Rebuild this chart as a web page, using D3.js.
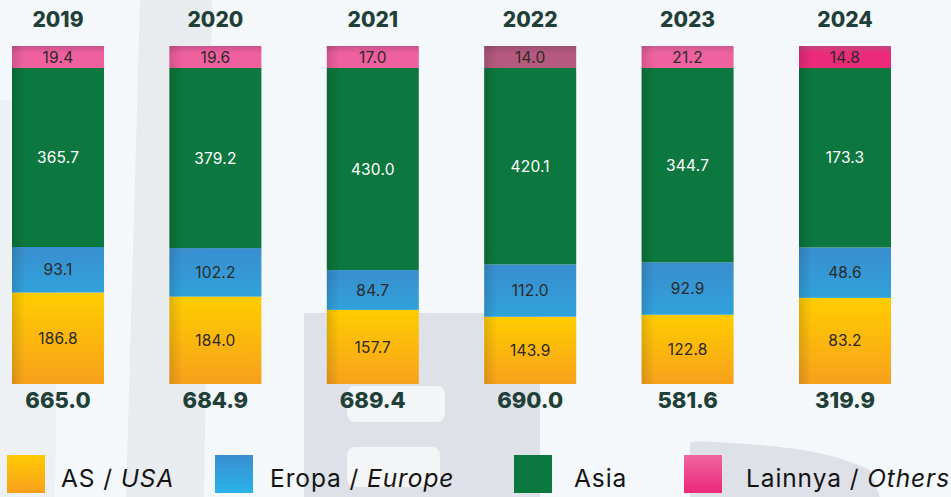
<!DOCTYPE html>
<html>
<head>
<meta charset="utf-8">
<script src="https://cdn.jsdelivr.net/npm/d3@7"></script>
<style>
  html, body { margin: 0; padding: 0; background: #f5f8fa; }
  svg { display: block; }
  text { font-family: Inter, "Noto Sans", sans-serif; }
</style>
</head>
<body>
<svg id="chart" width="951" height="497"></svg>
<script>
// ---- data ----
const years   = ["2019", "2020", "2021", "2022", "2023", "2024"];
const usa     = [186.8, 184.0, 157.7, 143.9, 122.8, 83.2];
const europe  = [93.1, 102.2, 84.7, 112.0, 92.9, 48.6];
const asia    = [365.7, 379.2, 430.0, 420.1, 344.7, 173.3];
const others  = [19.4, 19.6, 17.0, 14.0, 21.2, 14.8];
const totals  = ["665.0", "684.9", "689.4", "690.0", "581.6", "319.9"];
const seriesKeys   = ["usa", "europe", "asia", "others"];
const legendLabels = [["AS / ", "USA"], ["Eropa / ", "Europe"], ["Asia", ""], ["Lainnya / ", "Others"]];

// ---- build table ----
const table = years.map((y, i) => ({ year: y, usa: usa[i], europe: europe[i], asia: asia[i], others: others[i] }));

const svg = d3.select("#chart");
const defs = svg.append("defs");

function vGrad(id, stops) {
  const g = defs.append("linearGradient").attr("id", id).attr("x1", 0).attr("y1", 0).attr("x2", 0).attr("y2", 1);
  stops.forEach(s => g.append("stop").attr("offset", s[0]).attr("stop-color", s[1]));
}
vGrad("g-usa", [[0, "#ffcd00"], [1, "#f7a11c"]]);
vGrad("g-europe", [[0, "#3a8ecf"], [1, "#30a2db"]]);
vGrad("g-asia", [[0, "#0c773e"], [1, "#0c773e"]]);
// slight per-bar tint differences of the "others" cap, as seen in the picture
const othersTints = [
  ["#c9528a", "#ef609f"], ["#c9528a", "#ef609f"], ["#c9528a", "#ef609f"],
  ["#9c4f72", "#b5597f"], ["#cf5a90", "#ef62a0"], ["#c4457e", "#ec2a7a"]
];
years.forEach((yr, i) => vGrad("g-others-" + yr, [[0, othersTints[i][0]], [0.35, othersTints[i][1]], [1, othersTints[i][1]]]));
vGrad("l-usa", [[0, "#ffcb03"], [1, "#f8a01d"]]);
vGrad("l-europe", [[0, "#3a8ecf"], [1, "#29b2e9"]]);
vGrad("l-asia", [[0, "#0c773e"], [1, "#0c773e"]]);
vGrad("l-others", [[0, "#f0659f"], [1, "#ec2879"]]);
const shade = defs.append("linearGradient").attr("id", "shade").attr("x1", 0).attr("x2", 1).attr("y1", 0).attr("y2", 0);
shade.append("stop").attr("offset", 0).attr("stop-color", "#000").attr("stop-opacity", 0.13);
shade.append("stop").attr("offset", 0.05).attr("stop-color", "#000").attr("stop-opacity", 0.08);
shade.append("stop").attr("offset", 0.14).attr("stop-color", "#000").attr("stop-opacity", 0);

// ---- decorative watermark background ----
const bg = svg.append("g");
bg.append("polygon").attr("points", "140,0 212,0 204,497 126,497").attr("fill", "#e9ecef");
bg.append("polygon").attr("points", "0,100 60,95 55,497 0,497").attr("fill", "#eef1f3");
bg.append("rect").attr("x", 304).attr("y", 313).attr("width", 236).attr("height", 184).attr("fill", "#dee2e8");
bg.append("rect").attr("x", 347).attr("y", 386).attr("width", 98).attr("height", 36).attr("rx", 8).attr("fill", "#f3f5f7");
bg.append("rect").attr("x", 347).attr("y", 447).attr("width", 93).attr("height", 40).attr("rx", 8).attr("fill", "#f3f5f7");
bg.append("path").attr("d", "M690,442 Q700,440 760,445 Q830,450 870,470 L880,497 L690,497 Z").attr("fill", "#dee2e8");

// ---- scales ----
const x = d3.scaleBand().domain(years).range([12, 891]).paddingInner(1 - 92 / 157.4).paddingOuter(0);
const y = d3.scaleLinear().domain([0, 1]).range([384, 46]);

// share stack, with a minimum visible share so small segments keep their label
const stacked = d3.stack().keys(seriesKeys).offset(d3.stackOffsetExpand)(table);
const minShare = 22 / (y(0) - y(1));
const segs = [];
table.forEach((row, i) => {
  const shares = stacked.map(s => s[i][1] - s[i][0]);
  const fixed = shares.map(s => s < minShare);
  const fixedSum = fixed.reduce((a, f) => a + (f ? minShare : 0), 0);
  const freeSum = shares.reduce((a, s, k) => a + (fixed[k] ? 0 : s), 0);
  let acc = 0;
  shares.forEach((s, k) => {
    const a = fixed[k] ? minShare : s * (1 - fixedSum) / freeSum;
    segs.push({ year: row.year, key: seriesKeys[k], value: row[seriesKeys[k]], y0: acc, y1: acc + a });
    acc += a;
  });
});

const bars = svg.append("g");
bars.selectAll("rect.seg").data(segs).join("rect")
  .attr("class", "seg")
  .attr("x", d => x(d.year))
  .attr("width", x.bandwidth())
  .attr("y", d => y(d.y1))
  .attr("height", d => y(d.y0) - y(d.y1))
  .attr("fill", d => d.key === "others" ? `url(#g-others-${d.year})` : `url(#g-${d.key})`);

// left-edge shading
bars.selectAll("rect.shade").data(years).join("rect")
  .attr("class", "shade")
  .attr("x", d => x(d))
  .attr("width", x.bandwidth())
  .attr("y", y(1))
  .attr("height", y(0) - y(1))
  .attr("fill", "url(#shade)");

// segment value labels
bars.selectAll("text.val").data(segs).join("text")
  .attr("class", "val")
  .attr("x", d => x(d.year) + x.bandwidth() / 2)
  .attr("y", d => (y(d.y0) + y(d.y1)) / 2)
  .attr("dy", "0.36em")
  .attr("text-anchor", "middle")
  .attr("font-size", 15.5)
  .attr("font-weight", 400)
  .attr("letter-spacing", 0.2)
  .attr("fill", d => d.key === "asia" ? "#ffffff" : "#2c2a27")
  .text(d => d3.format(".1f")(d.value));

// year labels
svg.append("g").selectAll("text").data(years).join("text")
  .attr("x", d => x(d) + x.bandwidth() / 2)
  .attr("y", 27)
  .attr("text-anchor", "middle")
  .attr("font-size", 21)
  .attr("font-weight", 800)
  .attr("fill", "#1f3f38")
  .text(d => d);

// totals
svg.append("g").selectAll("text").data(years).join("text")
  .attr("x", d => x(d) + x.bandwidth() / 2)
  .attr("y", 408)
  .attr("text-anchor", "middle")
  .attr("font-size", 22)
  .attr("font-weight", 800)
  .attr("fill", "#1f3f38")
  .text((d, i) => totals[i]);

// legend
const legendX = [7, 215, 514, 684];
const legendTextDx = [54, 55, 60, 62];
const lg = svg.append("g").selectAll("g").data(seriesKeys).join("g")
  .attr("transform", (d, i) => `translate(${legendX[i]},455)`);
lg.append("rect").attr("width", 38).attr("height", 38).attr("fill", d => `url(#l-${d})`);
const lt = lg.append("text").attr("x", (d, i) => legendTextDx[i]).attr("y", 32)
  .attr("font-size", 24.5).attr("letter-spacing", 0.9).attr("fill", "#141414");
lt.append("tspan").text((d, i) => legendLabels[i][0]);
lt.append("tspan").attr("font-style", "italic").text((d, i) => legendLabels[i][1]);
</script>
</body>
</html>
